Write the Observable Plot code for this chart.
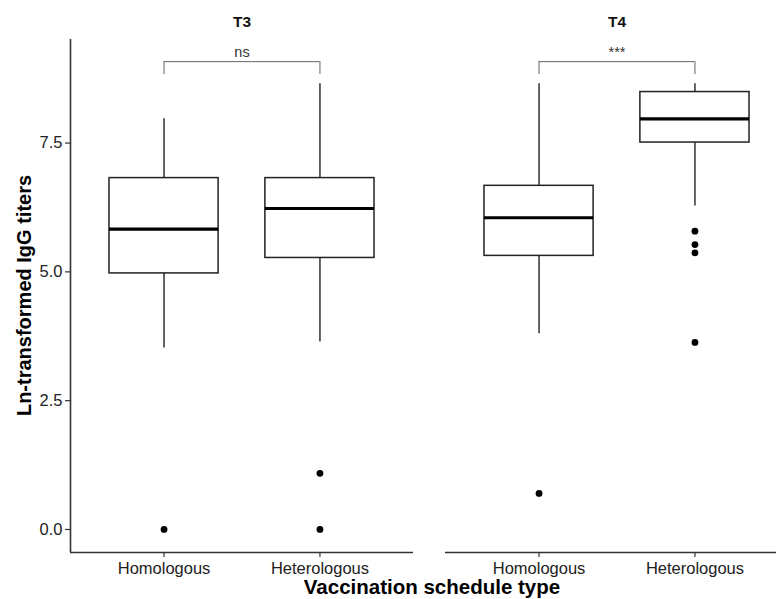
<!DOCTYPE html>
<html>
<head>
<meta charset="utf-8">
<script src="https://cdn.jsdelivr.net/npm/d3@7"></script>
<script src="https://cdn.jsdelivr.net/npm/@observablehq/plot@0.6"></script>
<style>
  html, body { margin: 0; padding: 0; background: #fff; overflow: hidden; }
  #chart { width: 776px; height: 599px; overflow: hidden; position: relative; }
  #chart svg { max-width: none !important; display: block; }
</style>
</head>
<body>
<div id="chart"></div>
<script>
// ---- Data ----
const facetNames = ["T3", "T4"];
const groupOrder = ["Homologous", "Heterologous"];

const boxTime    = ["T3", "T3", "T4", "T4"];
const boxGroup   = ["Homologous", "Heterologous", "Homologous", "Heterologous"];
const whiskerLow = [3.52, 3.64, 3.80, 6.28];
const q1         = [4.97, 5.27, 5.31, 7.51];
const median     = [5.83, 6.23, 6.05, 7.97];
const q3         = [6.82, 6.82, 6.67, 8.49];
const whiskerHigh= [7.97, 8.65, 8.65, 8.65];

const outlierTime  = ["T3", "T3", "T3", "T4", "T4", "T4", "T4", "T4"];
const outlierGroup = ["Homologous", "Heterologous", "Heterologous", "Homologous", "Heterologous", "Heterologous", "Heterologous", "Heterologous"];
const outlierValue = [0, 0, 1.09, 0.70, 5.79, 5.53, 5.37, 3.63];

const bracketTime  = ["T3", "T4"];
const bracketLabel = ["ns", "***"];
const bracketLevel = [9.08, 9.08];
const bracketTip   = [8.83, 8.83];

const yTicks = [0, 2.5, 5.0, 7.5];
const yDomain = [-0.447, 9.51];
const xDomain = [0.4, 2.6];

// ---- Build tables ----
const pos = g => groupOrder.indexOf(g) + 1;
const boxes = boxTime.map((t, i) => ({
  fx: t, x: pos(boxGroup[i]), lo: whiskerLow[i], q1: q1[i], med: median[i], q3: q3[i], hi: whiskerHigh[i]
}));
const outliers = outlierTime.map((t, i) => ({ fx: t, x: pos(outlierGroup[i]), y: outlierValue[i] }));
const brackets = bracketTime.map((t, i) => ({ fx: t, label: bracketLabel[i], y: bracketLevel[i], tip: bracketTip[i], x1: 1, x2: 2 }));
const bracketEnds = brackets.flatMap(b => [{ fx: b.fx, x: b.x1, y1: b.tip, y2: b.y }, { fx: b.fx, x: b.x2, y1: b.tip, y2: b.y }]);

const HW = 0.35; // box half width in x units
const FONT = "Liberation Sans, Arial, Helvetica, sans-serif";
const INK = "#222";

const plot = Plot.plot({
  width: 789,
  height: 599,
  marginTop: 39,
  marginBottom: 47,
  marginLeft: 69,
  marginRight: 0,
  style: { fontFamily: FONT, fontSize: "16.5px", color: INK, background: "white", maxWidth: "none" },
  fx: { domain: facetNames, axis: null, paddingInner: 0.0851, paddingOuter: 0, label: null },
  x: { domain: xDomain, axis: null },
  y: { domain: yDomain, axis: null },
  marks: [
    // axis lines
    Plot.ruleY([yDomain[0]], { stroke: "#333", strokeWidth: 1.6 }),
    Plot.ruleX([{ fx: "T3", x: xDomain[0] }], { x: "x", fx: "fx", stroke: "#333", strokeWidth: 1.6 }),
    Plot.axisY({ ticks: yTicks, tickFormat: d => d.toFixed(1), tickSize: 5, tickPadding: 3, label: null, stroke: "#333", strokeWidth: 1.2 }),
    Plot.axisX({ ticks: [1, 2], tickFormat: d => groupOrder[d - 1], tickSize: 5, tickPadding: 5, label: null, stroke: "#333", strokeWidth: 1.2 }),
    // whiskers
    Plot.ruleX(boxes, { fx: "fx", x: "x", y1: "lo", y2: "q1", stroke: INK, strokeWidth: 1.4 }),
    Plot.ruleX(boxes, { fx: "fx", x: "x", y1: "q3", y2: "hi", stroke: INK, strokeWidth: 1.4 }),
    // boxes
    Plot.rect(boxes, { fx: "fx", x1: d => d.x - HW, x2: d => d.x + HW, y1: "q1", y2: "q3", fill: "white", stroke: INK, strokeWidth: 1.5 }),
    // medians
    Plot.ruleY(boxes, { fx: "fx", y: "med", x1: d => d.x - HW, x2: d => d.x + HW, stroke: "#000", strokeWidth: 3.2 }),
    // outliers
    Plot.dot(outliers, { fx: "fx", x: "x", y: "y", r: 3.4, fill: "#000", stroke: null }),
    // significance brackets
    Plot.ruleY(brackets, { fx: "fx", y: "y", x1: "x1", x2: "x2", stroke: "#666", strokeWidth: 1 }),
    Plot.ruleX(bracketEnds, { fx: "fx", x: "x", y1: "y1", y2: "y2", stroke: "#666", strokeWidth: 1 }),
    Plot.text(brackets, { fx: "fx", x: 1.5, y: "y", text: "label", dy: -9, fontSize: 14.5, fill: "#333", lineAnchor: "middle" }),
    // facet strip labels
    Plot.text(facetNames, { fx: d => d, text: d => d, frameAnchor: "top", dy: -17, lineAnchor: "middle", fontWeight: "bold", fontSize: 15.5, fill: "#111" })
  ]
});

// axis titles
const svg = d3.select(plot);
svg.append("text")
  .attr("transform", "translate(31,295.5) rotate(-90)")
  .attr("text-anchor", "middle")
  .attr("font-family", FONT).attr("font-size", 20).attr("font-weight", "bold").attr("fill", "#000")
  .text("Ln-transformed IgG titers");
svg.append("text")
  .attr("x", 432).attr("y", 594)
  .attr("text-anchor", "middle")
  .attr("font-family", FONT).attr("font-size", 20.5).attr("font-weight", "bold").attr("fill", "#000")
  .text("Vaccination schedule type");

document.getElementById("chart").appendChild(plot);
</script>
</body>
</html>
